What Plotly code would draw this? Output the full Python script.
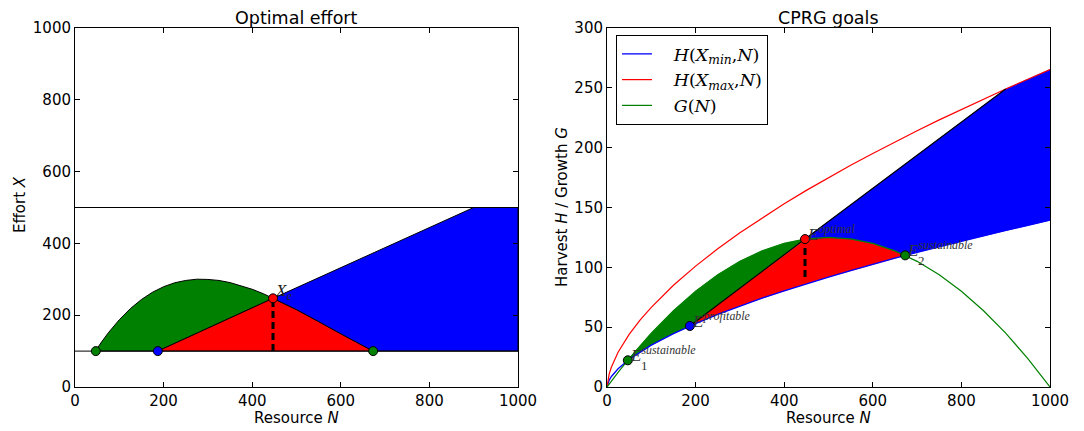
import plotly.graph_objects as go

# ---------------- data ----------------
N_curve = [0, 5, 10, 25, 50, 75, 100, 150, 200, 250, 300, 350, 400, 450, 500,
           550, 600, 650, 700, 750, 800, 850, 900, 950, 1000]
H_min_curve = [0, 5.8, 8.8, 15.2, 23.1, 29.4, 35.0, 44.6, 53.0, 60.7, 67.7, 74.2, 80.4,
               86.3, 91.9, 97.3, 102.6, 107.6, 112.5, 117.2, 121.9, 126.4, 130.8, 135.1, 139.4]
H_max_curve = [0, 11.0, 16.7, 29.0, 44.0, 56.1, 66.6, 85.0, 101.0, 115.5, 128.9, 141.3, 153.1,
               164.3, 175.0, 185.3, 195.2, 204.9, 214.2, 223.2, 232.0, 240.6, 249.0, 257.2, 265.3]
G_curve = [0, 2.5, 5.0, 12.2, 23.75, 34.7, 45, 63.75, 80, 93.75, 105, 113.75, 120, 123.75, 125,
           123.75, 120, 113.75, 105, 93.75, 80, 63.75, 45, 23.75, 0]

# sustainable effort curve (left panel)
Xs_N = [47, 50, 60, 75, 100, 125, 150, 175, 200, 225, 250, 275, 300, 325, 350, 375, 400,
        425, 447, 500, 550, 600, 650, 673]
Xs_X = [100, 107.3, 125.4, 150.7, 187.4, 218.4, 243.8, 264.0, 279.3, 290.3, 296.8, 300.3,
        299.6, 296.8, 290.8, 282.5, 272.2, 259.9, 247, 215.6, 182.2, 148.1, 114.8, 100]

X_min = 100
X_max = 500

# profitable effort line and its harvest
prof_N = [187, 447, 900]
prof_X = [100, 247, 500]
prof_H = [51, 123.6, 249]

# key points: E1 sustainable, profitable, optimal, E2 sustainable
pt_N = [47, 187, 447, 673]
pt_X = [100, 100, 247, 100]
pt_H = [22.3, 51, 123.6, 110]
pt_col = ['#008000', '#0000ff', '#ff0000', '#008000']

opt_dash_H = [92, 123.6]

GREEN = '#008000'
BLUE = '#0000ff'
RED = '#ff0000'
FONT = 'DejaVu Sans'
MATH = 'Liberation Serif'


def inside(xs, ys, lo, hi):
    return [(x, y) for x, y in zip(xs, ys) if lo < x < hi]


fig = go.Figure()

# ---------------- left panel: Optimal effort ----------------
g_pts = [(pt_N[0], pt_X[0])] + inside(Xs_N, Xs_X, pt_N[0], pt_N[2]) + [(pt_N[2], pt_X[2]),
                                                                      (prof_N[0], prof_X[0]),
                                                                      (pt_N[0], X_min)]
r_pts = [(prof_N[0], prof_X[0]), (pt_N[2], pt_X[2])] + inside(Xs_N, Xs_X, pt_N[2], pt_N[3]) + \
        [(pt_N[3], X_min), (prof_N[0], prof_X[0])]
b_pts = [(pt_N[2], pt_X[2]), (prof_N[2], prof_X[2]), (1000, X_max), (1000, X_min),
         (pt_N[3], X_min)] + inside(Xs_N, Xs_X, pt_N[2], pt_N[3])[::-1] + [(pt_N[2], pt_X[2])]

for pts, col in [(g_pts, GREEN), (r_pts, RED), (b_pts, BLUE)]:
    fig.add_trace(go.Scatter(x=[p[0] for p in pts], y=[p[1] for p in pts], fill='toself',
                             fillcolor=col, mode='lines', line=dict(color='black', width=1),
                             showlegend=False, hoverinfo='skip', xaxis='x', yaxis='y'))

for yv in [X_min, X_max]:
    fig.add_trace(go.Scatter(x=[0, 1000], y=[yv, yv], mode='lines',
                             line=dict(color='black', width=1), showlegend=False,
                             xaxis='x', yaxis='y'))

fig.add_trace(go.Scatter(x=[pt_N[2], pt_N[2]], y=[X_min, pt_X[2]], mode='lines',
                         line=dict(color='black', width=3, dash='7px,4px'),
                         showlegend=False, xaxis='x', yaxis='y'))
fig.add_trace(go.Scatter(x=pt_N, y=pt_X, mode='markers',
                         marker=dict(color=pt_col, size=9, line=dict(color='black', width=1)),
                         showlegend=False, xaxis='x', yaxis='y'))

# ---------------- right panel: CPRG goals ----------------
gr_pts = [(pt_N[0], pt_H[0])] + inside(N_curve, G_curve, pt_N[0], pt_N[2]) + \
         [(pt_N[2], pt_H[2]), (prof_N[0], prof_H[0])] + \
         inside(N_curve, H_min_curve, pt_N[0], prof_N[0])[::-1] + [(pt_N[0], pt_H[0])]
rr_pts = [(prof_N[0], prof_H[0]), (pt_N[2], pt_H[2])] + inside(N_curve, G_curve, pt_N[2], pt_N[3]) + \
         [(pt_N[3], pt_H[3])] + inside(N_curve, H_min_curve, prof_N[0], pt_N[3])[::-1] + \
         [(prof_N[0], prof_H[0])]
br_pts = [(pt_N[2], pt_H[2]), (prof_N[2], prof_H[2])] + inside(N_curve, H_max_curve, prof_N[2], 1001) + \
         inside(N_curve, H_min_curve, pt_N[3], 1001)[::-1] + [(pt_N[3], pt_H[3])] + \
         inside(N_curve, G_curve, pt_N[2], pt_N[3])[::-1] + [(pt_N[2], pt_H[2])]

for pts, col in [(gr_pts, GREEN), (rr_pts, RED), (br_pts, BLUE)]:
    fig.add_trace(go.Scatter(x=[p[0] for p in pts], y=[p[1] for p in pts], fill='toself',
                             fillcolor=col, mode='lines', line=dict(color=col, width=0.5),
                             showlegend=False, hoverinfo='skip', xaxis='x2', yaxis='y2'))

NB = '&nbsp;&nbsp;&nbsp;'
fig.add_trace(go.Scatter(x=N_curve, y=H_min_curve, mode='lines', line=dict(color=BLUE, width=1.3),
                         name=NB + '<i>H</i>(<i>X</i><sub><i>min</i></sub>,<i>N</i>)',
                         xaxis='x2', yaxis='y2'))
fig.add_trace(go.Scatter(x=N_curve, y=H_max_curve, mode='lines', line=dict(color=RED, width=1.2),
                         name=NB + '<i>H</i>(<i>X</i><sub><i>max</i></sub>,<i>N</i>)',
                         xaxis='x2', yaxis='y2'))
fig.add_trace(go.Scatter(x=N_curve, y=G_curve, mode='lines', line=dict(color=GREEN, width=1.2),
                         name=NB + '<i>G</i>(<i>N</i>)', xaxis='x2', yaxis='y2'))
fig.add_trace(go.Scatter(x=prof_N, y=prof_H, mode='lines', line=dict(color='black', width=1.2),
                         showlegend=False, xaxis='x2', yaxis='y2'))
fig.add_trace(go.Scatter(x=[pt_N[2], pt_N[2]], y=opt_dash_H, mode='lines',
                         line=dict(color='black', width=3, dash='7px,4px'),
                         showlegend=False, xaxis='x2', yaxis='y2'))
fig.add_trace(go.Scatter(x=pt_N, y=pt_H, mode='markers',
                         marker=dict(color=pt_col, size=9, line=dict(color='black', width=1)),
                         showlegend=False, xaxis='x2', yaxis='y2'))

# ---------------- layout ----------------
OFF = 8                      # page body margin
W, H = 1084 - OFF, 431 - OFF  # figure size


def px(v):
    return (v - OFF) / W


def py(v):
    return 1 - (v - OFF) / H


xl = [px(75), px(518)]
xr = [px(607), px(1050)]
yd = [py(387), py(28)]

axis_common = dict(showgrid=False, zeroline=False, showline=True, linecolor='black',
                   linewidth=1, mirror='ticks', ticks='inside', ticklen=5, tickcolor='black',
                   automargin=False,
                   tickfont=dict(family=FONT, size=15, color='black'))

fig.update_layout(
    width=W, height=H, margin=dict(l=0, r=0, t=0, b=0, autoexpand=False),
    paper_bgcolor='white', plot_bgcolor='white',
    xaxis=dict(domain=xl, range=[0, 1000], tickvals=[0, 200, 400, 600, 800, 1000],
               anchor='y', **axis_common),
    yaxis=dict(domain=yd, range=[0, 1000], tickvals=[0, 200, 400, 600, 800, 1000],
               anchor='x', **axis_common),
    xaxis2=dict(domain=xr, range=[0, 1000], tickvals=[0, 200, 400, 600, 800, 1000],
                anchor='y2', **axis_common),
    yaxis2=dict(domain=yd, range=[0, 300], tickvals=[0, 50, 100, 150, 200, 250, 300],
                anchor='x2', **axis_common),
    legend=dict(x=px(616), y=py(35), xanchor='left', yanchor='top',
                bgcolor='white', bordercolor='black', borderwidth=1,
                font=dict(family='DejaVu Serif', size=17.5, color='black')),
    showlegend=True,
)

ann = []


def txt(text, x, y, size=15, family=FONT, angle=0, **kw):
    d = dict(text=text, x=px(x), y=py(y), xref='paper', yref='paper', showarrow=False,
             xanchor='center', yanchor='middle', textangle=angle,
             font=dict(family=family, size=size, color='black'))
    d.update(kw)
    return d


ann.append(txt('Optimal effort', (75 + 518) / 2, 18, size=17.5))
ann.append(txt('CPRG goals', (607 + 1050) / 2, 18, size=17.5))
ann.append(txt('Resource <i>N</i>', (75 + 518) / 2, 418))
ann.append(txt('Resource <i>N</i>', (607 + 1050) / 2, 418))
ann.append(txt('Effort <i>X</i>', 20, 205, angle=-90))
ann.append(txt('Harvest <i>H</i> / Growth <i>G</i>', 562, 207, angle=-90))

# point labels
ann.append(dict(text='<i>X</i><sub><i>e</i></sub>', x=pt_N[2], y=pt_X[2], xref='x', yref='y',
                xanchor='left', yanchor='bottom', xshift=0, yshift=-7, showarrow=False,
                font=dict(family=MATH, size=17, color='#222')))
labels = ['sustainable', 'profitable', 'optimal', 'sustainable']
subs = ['1', '', '', '2']
for n, h, lab, sb in zip(pt_N, pt_H, labels, subs):
    ann.append(dict(text='<i>E</i><sup><i>' + lab + '</i></sup>', x=n, y=h, xref='x2', yref='y2',
                    xanchor='left', yanchor='bottom', xshift=0, yshift=-7, showarrow=False,
                    font=dict(family=MATH, size=17, color='#333')))
    if sb:
        ann.append(dict(text=sb, x=n, y=h, xref='x2', yref='y2', xanchor='left', yanchor='middle',
                        xshift=11, yshift=-5, showarrow=False,
                        font=dict(family=MATH, size=13, color='#333')))
fig.update_layout(annotations=ann)

fig.write_html('out.html')
